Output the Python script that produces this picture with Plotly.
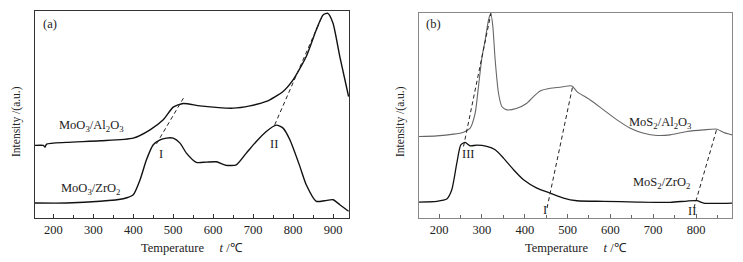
import plotly.graph_objects as go

# ---------------- Panel (a) data ----------------
a_al_t = [154, 175, 179, 183, 233, 317, 400, 442, 475, 500, 525, 567, 650, 692, 733,
          775, 800, 833, 858, 875, 887, 900, 917, 939]
a_al_i = [72.7, 72.7, 71.0, 74.0, 75.7, 77.3, 80.0, 88.3, 98.3, 111.0, 114.7, 112.3,
          110.0, 112.3, 116.7, 126.7, 138.3, 161.7, 188.3, 203.3, 205.0, 195.0, 161.7, 121.7]

a_zr_t = [154, 233, 317, 375, 400, 417, 433, 450, 467, 483, 500, 517, 533, 558, 583, 608,
          633, 658, 683, 708, 733, 758, 775, 792, 817, 833, 858, 879, 900, 917, 939]
a_zr_i = [15.0, 15.0, 16.7, 19.3, 23.3, 38.3, 58.3, 73.3, 78.3, 80.0, 80.0, 75.0, 65.0,
          55.7, 56.0, 56.3, 52.7, 53.3, 65.0, 76.7, 86.7, 93.0, 90.0, 78.3, 51.7, 33.3,
          16.7, 17.3, 18.3, 13.3, 6.7]

a_dash1_t = [458, 528]
a_dash1_i = [74.3, 121.7]
a_dash2_t = [754, 873]
a_dash2_i = [93.3, 202.3]

# ---------------- Panel (b) data ----------------
b_al_t = [153, 194.5, 233.5, 256.9, 272.5, 284.2, 291.9, 299.7, 307.5, 315.3, 320.8,
          325.5, 330.9, 338.7, 346.5, 358.2, 381.6, 404.9, 420.5, 436.1, 459.5, 482.9,
          510.1, 521.8, 553, 584.2, 615.3, 646.5, 677.7, 708.8, 740, 779, 817.9, 849.1,
          864.7, 884]
b_al_i = [81.7, 82.3, 84.0, 86.0, 90.0, 105.0, 131.7, 160.0, 178.3, 198.3, 205.0, 191.7,
          158.3, 125.0, 111.7, 108.3, 110.0, 115.0, 121.7, 127.3, 130.0, 131.0, 132.3,
          126.7, 118.3, 108.3, 98.3, 90.0, 85.0, 82.7, 83.3, 86.7, 88.3, 89.0, 85.7, 83.3]

b_zr_t = [153, 194.5, 217.9, 229.6, 241.3, 250.6, 260.8, 272.5, 288.1, 311.4, 330.9,
          350.4, 373.8, 397.1, 428.3, 459.5, 490.6, 521.8, 584.2, 662.1, 740, 779, 802.3,
          817.9, 884]
b_zr_i = [16.0, 16.7, 19.0, 28.3, 55.0, 73.3, 75.7, 72.3, 73.0, 71.7, 68.3, 60.0, 48.3,
          38.3, 30.0, 25.0, 20.0, 17.3, 16.7, 16.0, 15.7, 17.0, 17.3, 15.0, 15.0]

b_dash3_t = [257, 321]
b_dash3_i = [71.7, 205.0]
b_dash1_t = [452, 512]
b_dash1_i = [10.0, 132.3]
b_dash2_t = [795, 849]
b_dash2_i = [10.0, 90.0]

x_ticks = [200, 300, 400, 500, 600, 700, 800, 900]

FONT = "'Liberation Serif', 'Times New Roman', serif"
TXT = "#222"

fig = go.Figure()

def line(x, y, color, width, dash="solid", xa="x", ya="y"):
    fig.add_trace(go.Scatter(x=x, y=y, mode="lines", xaxis=xa, yaxis=ya,
                             line=dict(color=color, width=width, dash=dash, shape="spline", smoothing=0.6),
                             showlegend=False, hoverinfo="skip"))

line(a_al_t, a_al_i, "#111", 1.4)
line(a_zr_t, a_zr_i, "#111", 1.4)
line(a_dash1_t, a_dash1_i, "#222", 1, "4px,3px")
line(a_dash2_t, a_dash2_i, "#222", 1, "4px,3px")

line(b_al_t, b_al_i, "#666", 1.1, xa="x2", ya="y2")
line(b_zr_t, b_zr_i, "#111", 1.3, xa="x2", ya="y2")
line(b_dash3_t, b_dash3_i, "#222", 1, "4px,3px", "x2", "y2")
line(b_dash1_t, b_dash1_i, "#222", 1, "4px,3px", "x2", "y2")
line(b_dash2_t, b_dash2_i, "#222", 1, "4px,3px", "x2", "y2")

xcommon = dict(showline=True, mirror=True, linewidth=1, ticks="inside", ticklen=4,
               tickwidth=1, tickvals=x_ticks, showgrid=False, zeroline=False,
               automargin=False,
               minor=dict(ticks="inside", ticklen=3, dtick=50, tick0=0, showgrid=False),
               tickfont=dict(family=FONT, size=12.5, color=TXT))
ycommon = dict(showline=True, mirror=True, linewidth=1, ticks="", showticklabels=False,
               showgrid=False, zeroline=False, automargin=False)

fig.update_layout(
    width=743, height=262,
    margin=dict(l=0, r=0, t=0, b=0, autoexpand=False),
    paper_bgcolor="white", plot_bgcolor="white",
    xaxis=dict(domain=[35/743, 349/743], range=[154, 940], anchor="y",
               linecolor="#333", tickcolor="#333", minor_tickcolor="#333", **xcommon),
    yaxis=dict(domain=[44/262, 251/262], range=[0, 207.3], anchor="x",
               linecolor="#333", **ycommon),
    xaxis2=dict(domain=[419/743, 732/743], range=[153, 884], anchor="y2",
                linecolor="#888", tickcolor="#666", minor_tickcolor="#666", **xcommon),
    yaxis2=dict(domain=[44/262, 249.3/262], range=[0, 205.7], anchor="x2",
                linecolor="#888", **ycommon),
)

ann = []
def txt(x, y, s, xr="x", yr="y", size=12.5, **kw):
    ann.append(dict(x=x, y=y, xref=xr, yref=yr, text=s, showarrow=False,
                    xanchor="center", yanchor="middle",
                    font=dict(family=FONT, size=size, color=TXT), **kw))

txt(191.7, 194.3, "(a)")
txt(296, 92.3, "MoO<sub>3</sub>/Al<sub>2</sub>O<sub>3</sub>")
txt(292, 29, "MoO<sub>3</sub>/ZrO<sub>2</sub>")
txt(469, 64.3, "I")
txt(752, 74.3, "II")

txt(186.8, 194.3, "(b)", "x2", "y2")
txt(716.6, 95, "MoS<sub>2</sub>/Al<sub>2</sub>O<sub>3</sub>", "x2", "y2")
txt(720.5, 35, "MoS<sub>2</sub>/ZrO<sub>2</sub>", "x2", "y2")
txt(268.6, 64, "III", "x2", "y2")
txt(447.8, 8.3, "I", "x2", "y2")
txt(790.6, 6.7, "II", "x2", "y2")

# axis titles
xtitle = "Temperature\u00a0\u00a0\u00a0\u00a0\u00a0<i>t</i> /\u2103"
ann.append(dict(x=192/743, y=14/262, xref="paper", yref="paper", text=xtitle,
                showarrow=False, xanchor="center", yanchor="middle",
                font=dict(family=FONT, size=12.5, color=TXT)))
ann.append(dict(x=576/743, y=14/262, xref="paper", yref="paper", text=xtitle,
                showarrow=False, xanchor="center", yanchor="middle",
                font=dict(family=FONT, size=12.5, color=TXT)))
ann.append(dict(x=16/743, y=140/262, xref="paper", yref="paper", text="Intensity /(a.u.)",
                textangle=-90, showarrow=False, xanchor="center", yanchor="middle",
                font=dict(family=FONT, size=11.5, color=TXT)))
ann.append(dict(x=400/743, y=140/262, xref="paper", yref="paper", text="Intensity /(a.u.)",
                textangle=-90, showarrow=False, xanchor="center", yanchor="middle",
                font=dict(family=FONT, size=11.5, color=TXT)))

fig.update_layout(annotations=ann)
fig.write_html("out.html", config={"displayModeBar": False},
               post_script="document.body.style.margin='0px';document.body.style.padding='0px';")
